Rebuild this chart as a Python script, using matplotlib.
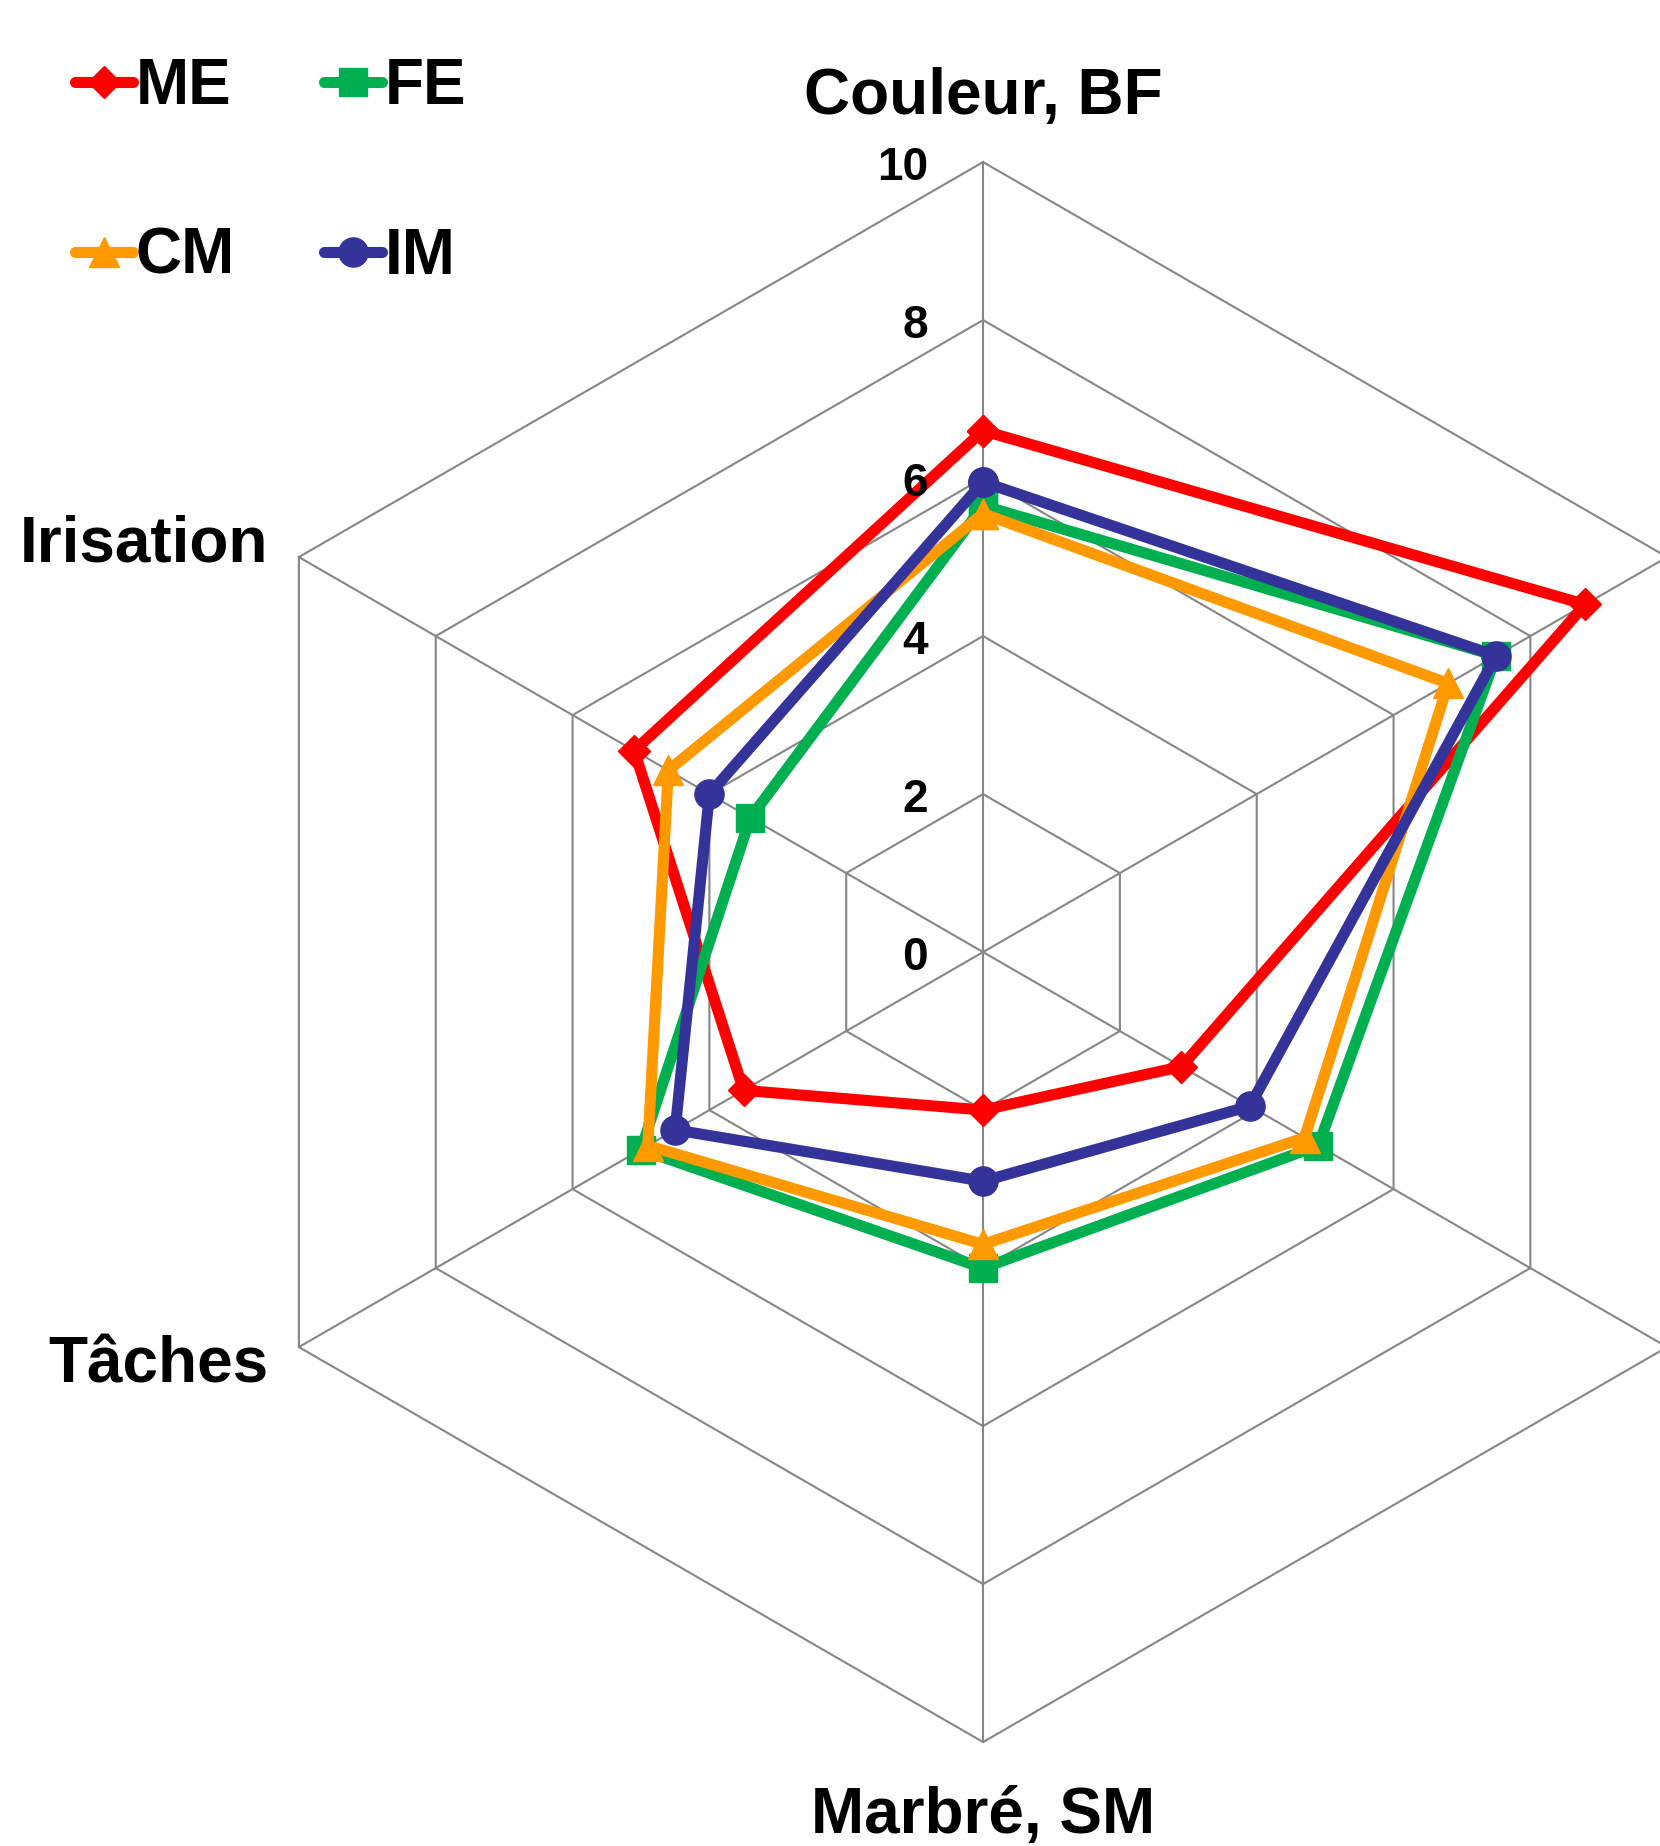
import numpy as np
import matplotlib
matplotlib.use("Agg")
import matplotlib.pyplot as plt
from matplotlib import transforms
from matplotlib.lines import Line2D

plt.rcParams['font.family'] = ['Liberation Sans', 'DejaVu Sans']
plt.rcParams['font.weight'] = 'bold'

# ---- data ----
categories = ["Couleur, BF", "", "", "Marbré, SM", "Tâches", "Irisation"]
series_names = ["ME", "FE", "CM", "IM"]
me = [6.6, 8.8, 2.9, 2.0, 3.5, 5.1]
fe = [5.65, 7.5, 4.9, 4.0, 5.0, 3.4]
cm = [5.55, 6.8, 4.7, 3.7, 4.9, 4.6]
im = [5.95, 7.5, 3.9, 2.9, 4.5, 4.0]
r_ticks = [0, 2, 4, 6, 8, 10]
tick_labels = ["0", "2", "4", "6", "8", "10"]

colors = ["#FF0000", "#00B050", "#FF9900", "#333399"]
markers = ["D", "s", "^", "o"]
msizes = [16, 20, 22, 21]
grid_color = "#868686"

fig = plt.figure(figsize=(16.6, 18.46), dpi=100)
ax = fig.add_axes([0.1163, 0.0563, 0.9518, 0.8559], projection='polar')
ax.set_theta_offset(np.pi / 2)
ax.set_theta_direction(-1)
ax.set_ylim(0, 10)
ax.grid(False)
ax.spines['polar'].set_visible(False)
ax.set_xticks([])
ax.set_yticks([])
ax.patch.set_visible(False)

n = len(categories)
angles = np.arange(n) * 2 * np.pi / n
closed = np.append(angles, angles[0])

# hexagonal grid
for r in r_ticks[1:]:
    ax.plot(closed, [r] * (n + 1), color=grid_color, lw=1.5, zorder=1, clip_on=False)
for a in angles:
    ax.plot([a, a], [0, r_ticks[-1]], color=grid_color, lw=1.5, zorder=1, clip_on=False)

# series
for vals, name, c, m, ms in zip([me, fe, cm, im], series_names, colors, markers, msizes):
    v = np.append(vals, vals[0])
    ax.plot(closed, v, color=c, lw=8, marker=m, markersize=ms,
            markerfacecolor=c, markeredgecolor=c, label=name,
            solid_joinstyle='round', solid_capstyle='round', zorder=3, clip_on=False)

# radial tick labels
tl = transforms.offset_copy(ax.transData, fig=fig, x=-55, y=-6, units='dots')
for r, lab in zip(r_ticks, tick_labels):
    ax.text(0, r, lab, transform=tl, ha='right', va='center', fontsize=33,
            fontweight='bold', color='black')

# category labels
label_offsets = {0: (0, 48, 'center'), 3: (0, -91, 'center'),
                 4: (-31, -35, 'right'), 5: (-31, -4, 'right')}
for i, cat in enumerate(categories):
    if not cat:
        continue
    dx, dy, ha = label_offsets[i]
    tr = transforms.offset_copy(ax.transData, fig=fig, x=dx, y=dy, units='dots')
    ax.text(angles[i], r_ticks[-1], cat, transform=tr, ha=ha, va='baseline',
            fontsize=46, fontweight='bold', color='black')

# legend (row-wise order ME, FE / CM, IM)
order = [0, 2, 1, 3]
leg_handles = []
for i in order:
    leg_handles.append(Line2D([], [], color=colors[i], lw=8, marker=markers[i],
                              markersize=msizes[i], solid_capstyle='round',
                              label=series_names[i]))
leg = fig.legend(handles=leg_handles, ncol=2, loc='upper left',
                 bbox_to_anchor=(75 / 1660, 1 - 57 / 1846),
                 bbox_transform=fig.transFigure, frameon=False,
                 prop={'size': 46, 'weight': 'bold'},
                 handlelength=0.9, handletextpad=0.05, columnspacing=1.4,
                 labelspacing=1.72, borderpad=0, borderaxespad=0, numpoints=1)

fig.savefig("out.png", dpi=100, facecolor='white')
